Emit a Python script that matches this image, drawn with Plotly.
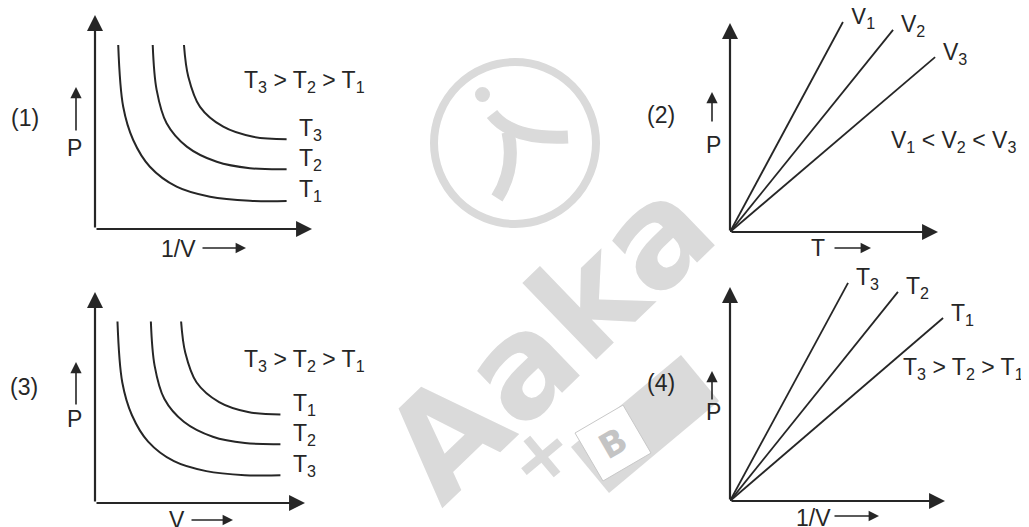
import plotly.graph_objects as go

W, H = 1029, 527
OFF = 8  # the page body adds an 8px margin around the figure

# hyperbola-like curves of panels (1) and (3) (axis units)
low_x = [1.07, 1.30, 1.76, 2.53, 3.76, 5.30, 7.14, 8.83]
low_y = [8.60, 5.71, 4.16, 2.91, 1.98, 1.51, 1.32, 1.31]
mid_x = [2.66, 2.84, 3.30, 4.23, 5.61, 7.14, 8.83]
mid_y = [8.60, 6.50, 4.94, 3.85, 3.14, 2.84, 2.79]
high_x = [4.10, 4.30, 4.84, 5.91, 7.29, 8.83]
high_y = [8.60, 7.12, 5.71, 4.78, 4.31, 4.19]

# straight lines from the origin, end points (panels 2 and 4)
p2_end_x = [5.43, 7.84, 9.86]
p2_end_y = [10.05, 9.67, 8.37]
p2_labels = ["V<sub>1</sub>", "V<sub>2</sub>", "V<sub>3</sub>"]
p4_end_x = [5.49, 7.81, 9.91]
p4_end_y = [10.19, 9.77, 8.55]
p4_labels = ["T<sub>3</sub>", "T<sub>2</sub>", "T<sub>1</sub>"]

p1_labels = ["T<sub>1</sub>", "T<sub>2</sub>", "T<sub>3</sub>"]
p3_labels = ["T<sub>3</sub>", "T<sub>2</sub>", "T<sub>1</sub>"]

INK = "#262626"
FONT = "Liberation Sans, Arial, sans-serif"
FS = 23

# panel placement: origin pixel, pixels per unit
panels = {
    "1": dict(ox=95, oy=229, sx=21.7, sy=21.4),
    "2": dict(ox=730, oy=232, sx=20.8, sy=20.9),
    "3": dict(ox=95, oy=503, sx=21.0, sy=21.1),
    "4": dict(ox=730, oy=501, sx=21.5, sy=21.4),
}
XR, YR = 10.6, 10.5


def px(x):
    return (x - OFF) / W


def py(y):
    return 1 - (y - OFF) / H


fig = go.Figure()
layout = {}
for k, p in panels.items():
    sfx = "" if k == "1" else k
    yr = min(YR, (p["oy"] - OFF) / p["sy"])
    layout["xaxis" + sfx] = dict(
        domain=[px(p["ox"]), px(p["ox"] + XR * p["sx"])],
        range=[0, XR], visible=False, anchor="y" + sfx,
    )
    layout["yaxis" + sfx] = dict(
        domain=[py(p["oy"]), min(1.0, py(p["oy"] - yr * p["sy"]))],
        range=[0, yr], visible=False, anchor="x" + sfx,
    )

line = dict(color=INK, width=2, shape="spline", smoothing=1.0)
curves = [(low_x, low_y), (mid_x, mid_y), (high_x, high_y)]
for ax in ["1", "3"]:
    sfx = "" if ax == "1" else ax
    for cx, cy in curves:
        fig.add_trace(go.Scatter(x=cx, y=cy, mode="lines", line=line,
                                 xaxis="x" + sfx, yaxis="y" + sfx,
                                 hoverinfo="skip"))
for ax, ex, ey in [("2", p2_end_x, p2_end_y), ("4", p4_end_x, p4_end_y)]:
    for x1, y1 in zip(ex, ey):
        fig.add_trace(go.Scatter(x=[0, x1], y=[0, y1], mode="lines",
                                 line=dict(color=INK, width=1.8),
                                 xaxis="x" + ax, yaxis="y" + ax,
                                 hoverinfo="skip"))

ann = []


def text(s, x, y, xanchor="left", size=FS):
    ann.append(dict(text=s, x=px(x), y=py(y), xref="paper", yref="paper",
                    xanchor=xanchor, yanchor="middle", showarrow=False,
                    font=dict(family=FONT, size=size, color=INK)))


def arrow(x0, y0, x1, y1, width=1.6, size=1.4):
    ann.append(dict(text="", x=px(x1), y=py(y1), ax=x0 - x1, ay=y0 - y1,
                    xref="paper", yref="paper", axref="pixel", ayref="pixel",
                    showarrow=True, arrowhead=2, arrowwidth=width,
                    arrowsize=size, arrowcolor=INK, standoff=0))


# main axes with arrows
for k, p in panels.items():
    ox, oy = p["ox"], p["oy"]
    arrow(ox, oy, ox + 10 * p["sx"], oy, width=2.2, size=1.45)
    arrow(ox, oy, ox, oy - 10 * p["sy"], width=2.2, size=1.45)

# end labels on curves
for ax, lbls, dx, dy in [("1", p1_labels, 10, -10), ("3", p3_labels, 11, -10)]:
    p = panels[ax]
    for s, cx, cy in zip(lbls, [low_x, mid_x, high_x], [low_y, mid_y, high_y]):
        text(s, p["ox"] + cx[-1] * p["sx"] + dx, p["oy"] - cy[-1] * p["sy"] + dy)
for ax, lbls, ex, ey in [("2", p2_labels, p2_end_x, p2_end_y),
                         ("4", p4_labels, p4_end_x, p4_end_y)]:
    p = panels[ax]
    for s, x1, y1 in zip(lbls, ex, ey):
        text(s, p["ox"] + x1 * p["sx"] + 6, p["oy"] - y1 * p["sy"] - 4)

# panel numbers, P arrows, axis names, relations
text("(1)", 25, 118, "center")
text("(2)", 661, 115, "center")
text("(3)", 24, 387, "center")
text("(4)", 661, 383, "center")

arrow(76, 132, 76, 87)
text("P", 74, 148, "center")
arrow(712, 123, 712, 92)
text("P", 713, 145, "center")
arrow(76, 406, 76, 362)
text("P", 74, 419, "center")
arrow(712, 401, 712, 371)
text("P", 713, 412, "center")

text("1/V", 159, 249)
arrow(201, 248, 246, 248, width=1.6, size=1.3)
text("T", 809, 248)
arrow(833, 248, 871, 248, width=1.6, size=1.3)
text("V", 167, 520)
arrow(190, 520, 233, 520, width=1.6, size=1.3)
text("1/V", 794, 518)
arrow(833, 516, 879, 516, width=1.6, size=1.3)

text("T<sub>3</sub> > T<sub>2</sub> > T<sub>1</sub>", 242, 81)
text("V<sub>1</sub> < V<sub>2</sub> < V<sub>3</sub>", 889, 141)
text("T<sub>3</sub> > T<sub>2</sub> > T<sub>1</sub>", 242, 360)
text("T<sub>3</sub> > T<sub>2</sub> > T<sub>1</sub>", 901, 368)

# faint watermark
WM = "#dadada"


def poly(pts):
    return "M " + " L ".join(f"{px(a)},{py(b)}" for a, b in pts) + " Z"


watermark = [
    dict(type="circle", xref="paper", yref="paper",
         x0=px(434), x1=px(596), y0=py(224), y1=py(62),
         line=dict(color=WM, width=8), layer="below"),
    dict(type="circle", xref="paper", yref="paper",
         x0=px(475), x1=px(490), y0=py(102), y1=py(87),
         fillcolor=WM, line=dict(width=0), layer="below"),
    dict(type="path", xref="paper", yref="paper",
         path=f"M {px(492)},{py(114)} Q {px(512)},{py(140)} {px(568)},{py(137)}",
         line=dict(color=WM, width=13), layer="below"),
    dict(type="path", xref="paper", yref="paper",
         path=f"M {px(508)},{py(132)} Q {px(516)},{py(168)} {px(497)},{py(198)}",
         line=dict(color=WM, width=13), layer="below"),
    dict(type="path", xref="paper", yref="paper",
         path=poly([(571, 447), (681, 355), (719, 401), (609, 493)]),
         fillcolor=WM, line=dict(width=0), layer="below"),
    dict(type="path", xref="paper", yref="paper",
         path=poly([(651, 453), (623, 405), (575, 433), (603, 481)]),
         fillcolor="white", line=dict(color="#c8c8c8", width=1), layer="below"),
]
wm_ann = [
    dict(text="<b>Aaka</b>", x=px(548), y=py(338), xref="paper", yref="paper",
         xanchor="center", yanchor="middle",
         showarrow=False, textangle=-44,
         font=dict(family="DejaVu Sans", size=140, color=WM)),
    dict(text="<b>+</b>", x=px(540), y=py(455), xref="paper", yref="paper",
         xanchor="center", yanchor="middle",
         showarrow=False, textangle=-40,
         font=dict(family="DejaVu Sans", size=75, color=WM)),
    dict(text="<b>B</b>", x=px(613), y=py(443), xref="paper", yref="paper",
         xanchor="center", yanchor="middle",
         showarrow=False, textangle=-30,
         font=dict(family="DejaVu Sans", size=34, color="#c4c4c4")),
]

fig.update_layout(
    width=W, height=H,
    margin=dict(l=0, r=0, t=0, b=0),
    paper_bgcolor="white", plot_bgcolor="rgba(0,0,0,0)",
    showlegend=False,
    annotations=wm_ann + ann,
    shapes=watermark,
    **layout,
)

fig.write_html("out.html")
